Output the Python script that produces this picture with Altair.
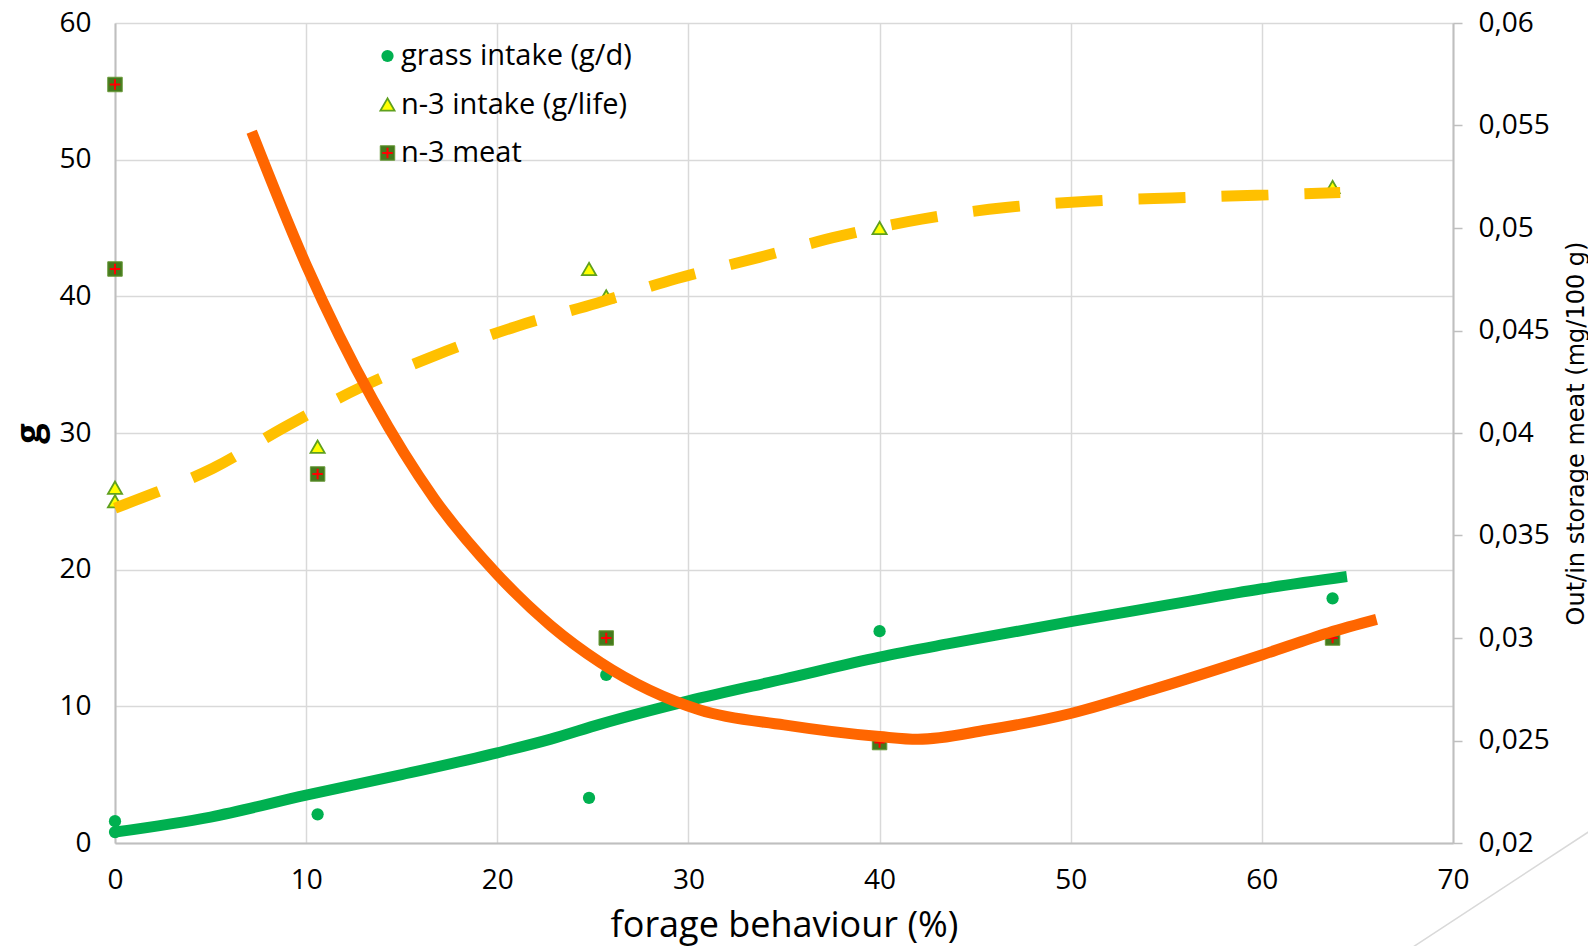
import altair as alt
import pandas as pd

# ---------------- data ----------------
# observed points
grass_x = [0, 0, 10.6, 24.8, 25.7, 40.0, 63.7]
grass_y = [1.6, 0.8, 2.1, 3.3, 12.3, 15.5, 17.9]          # grass intake (g/d), left axis

n3_x = [0, 0, 10.6, 24.8, 25.7, 40.0, 63.7]
n3_y = [26, 25, 29, 42, 40, 45, 48]                        # n-3 intake (g/life), left axis

meat_x = [0, 0, 10.6, 25.7, 40.0, 63.7]
meat_y = [0.057, 0.048, 0.038, 0.030, 0.0249, 0.030]       # n-3 meat, right axis

# trend lines
grass_trend_x = [0, 5, 10, 15, 20, 22.8, 25.4, 30, 35, 40, 43.7, 50, 55, 60, 64.45]
grass_trend_y = [0.8, 1.9, 3.5, 5.0, 6.6, 7.6, 8.7, 10.4, 12.0, 13.6, 14.6, 16.2, 17.4, 18.6, 19.5]

n3_trend_x = [0, 1.5, 5.1, 8.9, 12.8, 16.8, 21.0, 25.2, 29.4, 33.7, 37.9, 42.2, 46.6, 50.9, 55.3, 59.7, 64.1]
n3_trend_y = [24.5, 25.3, 27.4, 30.45, 33.3, 35.7, 37.8, 39.5, 41.3, 42.85, 44.4, 45.65, 46.5, 46.95, 47.2, 47.4, 47.6]

meat_trend_x = [7.15, 10, 13.5, 16.7, 20, 22.8, 25.4, 30.6, 35.0, 40, 42, 45.6, 50.05, 54.5, 60.07, 63.5, 66.0]
meat_trend_y = [0.0547, 0.0482, 0.0416, 0.0368, 0.0331, 0.0306, 0.0288, 0.02649, 0.02576, 0.02519,
                0.02506, 0.02551, 0.02633, 0.02755, 0.02920, 0.03026, 0.03091]

legend_labels = ["grass intake (g/d)", "n-3 intake (g/life)", "n-3 meat"]

x_ticks = [0, 10, 20, 30, 40, 50, 60, 70]
left_ticks = [0, 10, 20, 30, 40, 50, 60]
right_ticks = [0.02, 0.025, 0.03, 0.035, 0.04, 0.045, 0.05, 0.055, 0.06]

x_title = "forage behaviour (%)"
left_title = "g"
right_title = "Out/in storage meat (mg/100 g)"

# ---------------- styling ----------------
FONT = "Open Sans"
RFONT = "DejaVu Sans"
GREEN = "#00B050"
ORANGE = "#FF6600"
YELLOW = "#FFC000"
TRI_FILL = "#FFFF00"
TRI_STROKE = "#5FA01E"
SQ_FILL = "#457A1D"
SQ_STROKE = "#6A9A3A"
PLUS = "#FF0000"
GRID = "#D9D9D9"
AXIS = "#BFBFBF"
TXT = "#000000"
W, H = 1338, 820
LBL = 28

PLUS_SHAPE = "M-1,0H1M0,-1V1"


def df(xs, ys):
    return pd.DataFrame({"x": xs, "y": ys})


x_axis = alt.Axis(values=x_ticks, grid=True, gridColor=GRID, gridWidth=1.5,
                  domainColor=AXIS, domainWidth=2, ticks=False, tickSize=0,
                  labelFont=FONT, labelFontSize=LBL, labelColor=TXT, labelPadding=37,
                  labelBaseline="middle", labelFlush=False,
                  title=x_title, titleFont=FONT, titleFontSize=36, titleFontWeight="normal",
                  titleColor=TXT, titleX=W / 2, titleY=82, titleBaseline="middle",
                  titleAlign="center")
x_enc = alt.X("x:Q", scale=alt.Scale(domain=[0, 70], nice=False, zero=False), axis=x_axis)

left_axis = alt.Axis(orient="left", values=left_ticks, grid=True, gridColor=GRID, gridWidth=1.5,
                     domainColor=AXIS, domainWidth=2, ticks=False, tickSize=0,
                     labelFont=FONT, labelFontSize=LBL, labelColor=TXT, labelPadding=24,
                     labelFlush=False,
                     title=left_title, titleFont=FONT, titleFontSize=36, titleFontWeight="bold",
                     titleColor=TXT, titleX=-86, titleY=H / 2, titleAngle=270,
                     titleBaseline="middle", titleAlign="center")
yl_enc = alt.Y("y:Q", scale=alt.Scale(domain=[0, 60], nice=False, zero=False), axis=left_axis)

right_axis = alt.Axis(orient="right", values=right_ticks, grid=False,
                      domainColor=AXIS, domainWidth=2, ticks=True, tickSize=9,
                      tickColor=AXIS, tickWidth=1.5,
                      labelExpr="replace(format(datum.value, '.3~f'), '.', ',')",
                      labelFont=FONT, labelFontSize=LBL, labelColor=TXT, labelPadding=16,
                      labelFlush=False,
                      title=right_title, titleFont=RFONT, titleFontSize=24, titleFontWeight="normal",
                      titleColor=TXT, titleX=123, titleY=H / 2, titleAngle=270,
                      titleBaseline="middle", titleAlign="center")
yr_enc = alt.Y("y:Q", scale=alt.Scale(domain=[0.02, 0.06], nice=False, zero=False), axis=right_axis)

# ---------------- left axis group ----------------
grass_pts = alt.Chart(df(grass_x, grass_y)).mark_point(
    shape="circle", filled=True, size=150, color=GREEN, opacity=1
).encode(x=x_enc, y=yl_enc)

n3_pts = alt.Chart(df(n3_x, n3_y)).mark_point(
    shape="triangle-up", filled=True, size=200, fill=TRI_FILL, stroke=TRI_STROKE,
    strokeWidth=1.8, opacity=1
).encode(x=x_enc, y=yl_enc)

grass_line = alt.Chart(df(grass_trend_x, grass_trend_y)).mark_line(
    color=GREEN, strokeWidth=11, interpolate="monotone", strokeCap="butt"
).encode(x=x_enc, y=yl_enc)

n3_line = alt.Chart(df(n3_trend_x, n3_trend_y)).mark_line(
    color=YELLOW, strokeWidth=11, interpolate="monotone", strokeCap="butt",
    strokeDash=[47, 36]
).encode(x=x_enc, y=yl_enc)

left = alt.layer(grass_pts, n3_pts, grass_line, n3_line)

# ---------------- right axis group ----------------
meat_pts = alt.Chart(df(meat_x, meat_y)).mark_point(
    shape="square", filled=True, size=210, fill=SQ_FILL, stroke=SQ_STROKE,
    strokeWidth=1, opacity=1
).encode(x=x_enc, y=yr_enc)

meat_plus = alt.Chart(df(meat_x, meat_y)).mark_point(
    shape=PLUS_SHAPE, filled=False, size=110, stroke=PLUS, strokeWidth=2, opacity=1
).encode(x=x_enc, y=yr_enc)

meat_line = alt.Chart(df(meat_trend_x, meat_trend_y)).mark_line(
    color=ORANGE, strokeWidth=11, interpolate="monotone", strokeCap="butt"
).encode(x=x_enc, y=yr_enc)

right = alt.layer(meat_pts, meat_plus, meat_line)

# ---------------- legend (inside the plot, top left) ----------------
legend_df = pd.DataFrame({"label": legend_labels, "row": [0, 1, 2]})
leg_y = alt.Y("row:Q", scale=alt.Scale(domain=[0, 2], range=[33, 130]), axis=None)
SYM_X = 272.5
TXT_X = 286

leg_circle = alt.Chart(legend_df).transform_filter("datum.row == 0").mark_point(
    shape="circle", filled=True, size=150, color=GREEN, opacity=1
).encode(x=alt.value(SYM_X), y=leg_y)
leg_tri = alt.Chart(legend_df).transform_filter("datum.row == 1").mark_point(
    shape="triangle-up", filled=True, size=200, fill=TRI_FILL, stroke=TRI_STROKE,
    strokeWidth=1.8, opacity=1
).encode(x=alt.value(SYM_X), y=leg_y)
leg_sq = alt.Chart(legend_df).transform_filter("datum.row == 2").mark_point(
    shape="square", filled=True, size=210, fill=SQ_FILL, stroke=SQ_STROKE,
    strokeWidth=1, opacity=1
).encode(x=alt.value(SYM_X), y=leg_y)
leg_plus = alt.Chart(legend_df).transform_filter("datum.row == 2").mark_point(
    shape=PLUS_SHAPE, filled=False, size=110, stroke=PLUS, strokeWidth=2, opacity=1
).encode(x=alt.value(SYM_X), y=leg_y)
leg_text = alt.Chart(legend_df).mark_text(
    align="left", baseline="middle", font=FONT, fontSize=29, color=TXT
).encode(x=alt.value(TXT_X), y=leg_y, text="label:N")

legend = alt.layer(leg_circle, leg_tri, leg_sq, leg_plus, leg_text)

# slide decoration line at the bottom right corner
deco = alt.Chart(pd.DataFrame({"d": [0]})).mark_rule(color=GRID, strokeWidth=1.5).encode(
    x=alt.value(1298), y=alt.value(924), x2=alt.value(1481), y2=alt.value(804)
)

chart = alt.layer(left, right, legend, deco).resolve_scale(y="independent").properties(
    width=W, height=H,
    autosize=alt.AutoSizeParams(type="none"),
    padding={"left": 107, "top": 15, "right": 135, "bottom": 103},
    background="white",
).configure_view(stroke=None)

chart.save("out.html", embed_options={"renderer": "svg", "actions": False})
